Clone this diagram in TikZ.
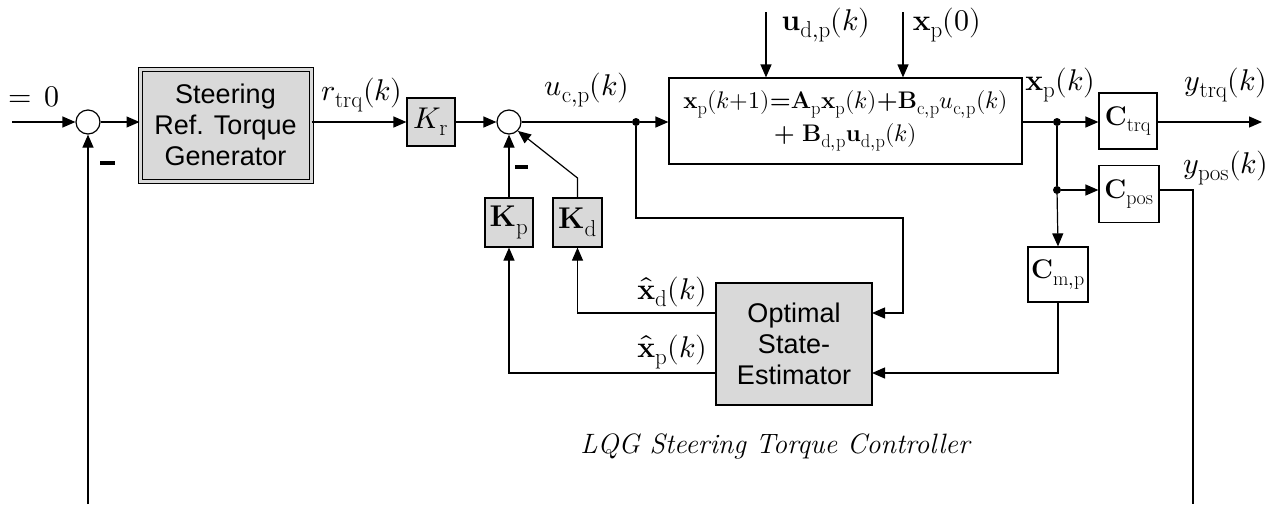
\documentclass[tikz,border=0pt]{standalone}
\usepackage{amsmath}
\usepackage{fontspec}
\usepackage{unicode-math}
\setmathfont{Latin Modern Math}
\DeclareMathSizes{30}{30}{23}{18}
\DeclareMathSizes{27}{27}{20}{16}
\DeclareMathSizes{24}{24}{18.5}{15}
\newfontfamily\arialfont{Liberation Sans}
\usetikzlibrary{arrows.meta,calc}
\definecolor{boxgray}{RGB}{217,217,217}
\tikzset{
  wire/.style={line width=1.2pt},
  arr/.style={wire,-{Triangle[length=13pt,width=11pt]}},
  sumnode/.style={circle,draw,line width=1.2pt,fill=white,minimum size=24pt,inner sep=0pt},
  dotnode/.style={circle,fill=black,minimum size=8pt,inner sep=0pt},
  gainbox/.style={draw,line width=1.2pt,fill=boxgray,inner sep=0pt},
  wbox/.style={draw,line width=1.2pt,fill=white,inner sep=0pt},
  lbl/.style={font=\fontsize{30}{34}\selectfont,inner sep=0pt},
  clbl/.style={font=\fontsize{27}{31}\selectfont,inner sep=0pt},
  sans/.style={font=\arialfont\fontsize{27}{31}\selectfont,align=center},
}
\begin{document}
\begin{tikzpicture}[x=1pt,y=-1pt]
\useasboundingbox (0,0) rectangle (1285,504);
% blocks
\node[sumnode] (s1) at (88,122) {};
\node[draw,line width=1pt,double=boxgray,double distance=3pt,fill=boxgray,minimum width=171pt,minimum height=112pt,sans] (gen) at (225.5,125) {Steering\\Ref. Torque\\Generator};
\node[gainbox,minimum width=48pt,minimum height=48pt,lbl] (kr) at (431,122) {$K_\mathrm{r}$};
\node[sumnode] (s2) at (509,122) {};
\node[dotnode] (d1) at (636,122) {};
\node[wbox,minimum width=353pt,minimum height=86pt,font=\fontsize{24}{33}\selectfont,align=center] (plant) at (845.5,121)
 {$\mathbf{x}_\mathrm{p}(k{+}1)\text{\bfseries=}\mathbf{A}_\mathrm{p}\mathbf{x}_\mathrm{p}(k)\text{\bfseries+}\mathbf{B}_\mathrm{c,p}u_\mathrm{c,p}(k)$\\
  $\text{\bfseries+}\ \mathbf{B}_\mathrm{d,p}\mathbf{u}_\mathrm{d,p}(k)$};
\node[dotnode] (d2) at (1057,122) {};
\node[wbox,minimum width=58pt,minimum height=56pt,clbl] (ctrq) at (1128,121) {$\mathbf{C}_\mathrm{trq}$};
\node[dotnode] (d3) at (1057,190) {};
\node[wbox,minimum width=60pt,minimum height=57pt,clbl] (cpos) at (1129,194) {$\mathbf{C}_\mathrm{pos}$};
\node[wbox,minimum width=60pt,minimum height=55pt,clbl] (cmp) at (1058,274.5) {$\mathbf{C}_\mathrm{m,p}$};
\node[gainbox,minimum width=48pt,minimum height=49pt,lbl] (kp) at (509,222.5) {$\mathbf{K}_\mathrm{p}$};
\node[gainbox,minimum width=49pt,minimum height=49pt,lbl] (kd) at (577.5,222.5) {$\mathbf{K}_\mathrm{d}$};
\node[gainbox,minimum width=156pt,minimum height=122pt,sans] (est) at (794,344) {Optimal\\State-\\Estimator};
% coordinates
\coordinate (in) at (12,122);
\coordinate (fbl) at (88,504);
\coordinate (ud) at (766,12);
\coordinate (x0) at (903,12);
\coordinate (out) at (1262,122);
\coordinate (c1) at (903,218);
\coordinate (e1) at (872,313);
\coordinate (e2) at (872,373);
\coordinate (o1) at (716,313);
\coordinate (o2) at (716,373);
\coordinate (kdb) at (577.5,178);
\coordinate (pc) at (1193,190);
\coordinate (fbr) at (1193,504);
\coordinate (cmb) at (1058,373);
% connectors
\draw[arr] (in) -- (s1.west);
\draw[arr] (fbl) -- (s1.south);
\draw[arr] (s1.east) -- (gen.west |- s1);
\draw[arr] (gen.east |- s1) -- (kr.west);
\draw[arr] (kr.east) -- (s2.west);
\draw[wire] (s2.east) -- (d1);
\draw[arr] (d1) -- (plant.west |- d1);
\draw[arr] (d1) |- (c1) |- (e1);
\draw[arr] (ud) -- (ud |- plant.north);
\draw[arr] (x0) -- (x0 |- plant.north);
\draw[wire] (plant.east |- d2) -- (d2);
\draw[arr] (d2) -- (ctrq.west |- d2);
\draw[arr] (ctrq.east |- out) -- (out);
\draw[wire] (d2) -- (d3);
\draw[arr] (d3) -- (cmp.north);
\draw[arr] (d3) -- (cpos.west |- d3);
\draw[wire] (cpos.east |- pc) -- (pc) -- (fbr);
\draw[arr] (cmp.south) -- (cmb) -- (e2);
\draw[arr] (o1) -| (kd.south);
\draw[arr] (o2) -| (kp.south);
\draw[arr] (kp.north) -- (s2.south);
\draw[arr] (kd.north) -- (kdb) -- (s2.south east);
% minus signs
\fill (99.5,161) rectangle (114.5,165);
\fill (514.5,165) rectangle (527.5,169);
% labels
\node[lbl,anchor=west] (l0) at (8,97) {$=\,0$};
\node[lbl] (lr) at (362,95) {$r_\mathrm{trq}(k)$};
\node[lbl] (lu) at (587,90) {$u_\mathrm{c,p}(k)$};
\node[lbl] (lud) at (826,25) {$\mathbf{u}_\mathrm{d,p}(k)$};
\node[lbl] (lx0) at (947,25) {$\mathbf{x}_\mathrm{p}(0)$};
\node[lbl] (lxp) at (1060,85) {$\mathbf{x}_\mathrm{p}(k)$};
\node[lbl] (lyt) at (1226,85) {$y_\mathrm{trq}(k)$};
\node[lbl] (lyp) at (1226,168) {$y_\mathrm{pos}(k)$};
\node[lbl] (lxd) at (672,292) {$\hat{\mathbf{x}}_\mathrm{d}(k)$};
\node[lbl] (lxp2) at (672,352) {$\hat{\mathbf{x}}_\mathrm{p}(k)$};
\node[font=\itshape\fontsize{28}{32}\selectfont,anchor=base,inner sep=0pt] (lqg) at (775,453) {LQG Steering Torque Controller};
\end{tikzpicture}
\end{document}
